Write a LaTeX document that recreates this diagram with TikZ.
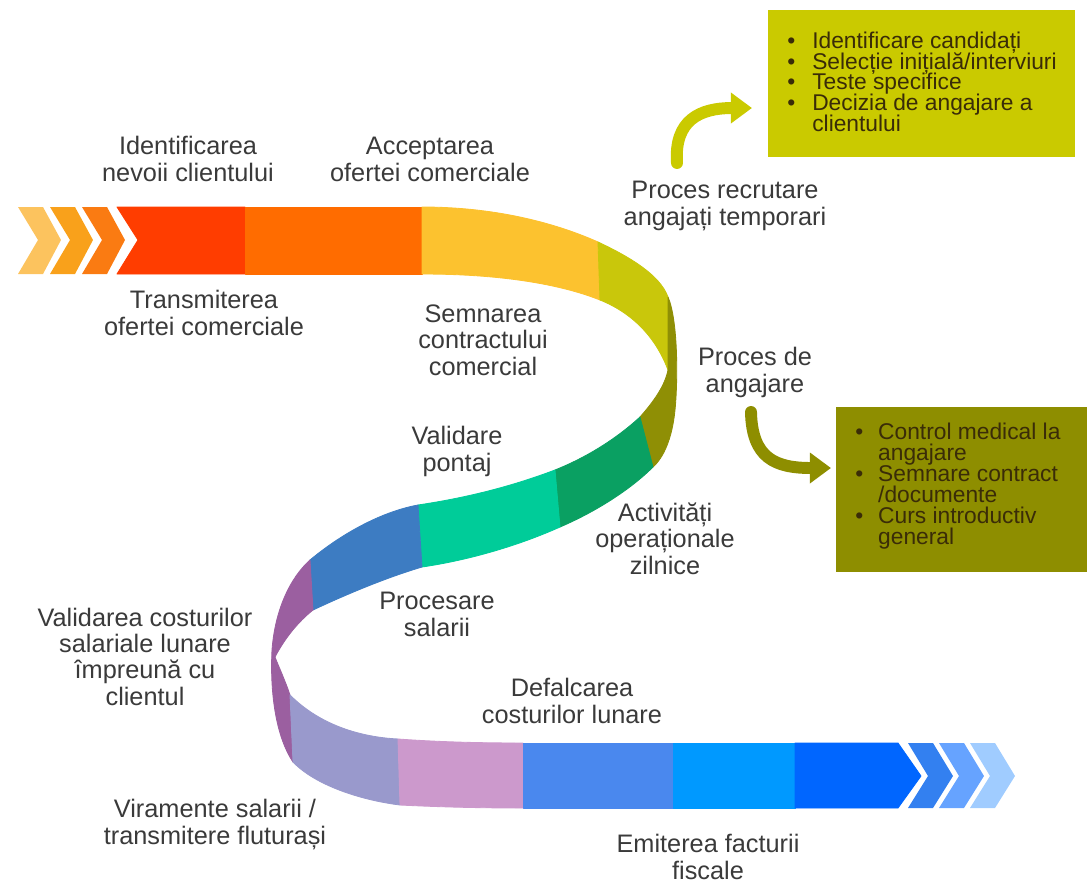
\documentclass[tikz,border=0pt]{standalone}
\usepackage{fontspec}
\setmainfont{Liberation Sans}
\usetikzlibrary{arrows.meta}
\definecolor{txtgray}{HTML}{3A3A3A}
\definecolor{boxtxt}{HTML}{3A2C08}
\definecolor{recbox}{HTML}{CACA00}
\definecolor{angbox}{HTML}{8E8E00}
\definecolor{chevA}{HTML}{FCC35E}
\definecolor{chevB}{HTML}{F9A11B}
\definecolor{chevC}{HTML}{FA7B12}
\definecolor{segRed}{HTML}{FF3D00}
\definecolor{segOrange}{HTML}{FF6C00}
\definecolor{segYellow}{HTML}{FCC22F}
\definecolor{segLime}{HTML}{C9C70B}
\definecolor{segOlive}{HTML}{8F8F05}
\definecolor{segGreen}{HTML}{0AA062}
\definecolor{segTeal}{HTML}{00CC99}
\definecolor{segBlue}{HTML}{3D7CC2}
\definecolor{segPurple}{HTML}{9B5FA0}
\definecolor{segLilac}{HTML}{9999CC}
\definecolor{segPink}{HTML}{CC99CC}
\definecolor{segSky}{HTML}{4A88EE}
\definecolor{segAzure}{HTML}{0099FF}
\definecolor{segDeep}{HTML}{0066FF}
\definecolor{chevD}{HTML}{3380F0}
\definecolor{chevE}{HTML}{66A3FF}
\definecolor{chevF}{HTML}{A0CCFF}
\newcommand{\boxfont}[1]{\fontsize{16.2}{#1}\selectfont\lineskiplimit=-20pt\relax}
\newcommand{\bul}[1]{\makebox[#1][l]{\textbullet}}
\begin{document}
\begin{tikzpicture}[x=0.025cm,y=-0.025cm,line join=round,line cap=round]
	\tikzset{lbl/.style={font=\fontsize{18}{18.5}\selectfont,text=txtgray,align=center,inner sep=0pt,anchor=base},
		bx/.style={text=boxtxt,align=left,inner sep=0pt,anchor=base west},
		seg/.style={line width=0.6pt},
		arr/.style={line width=8.5pt,-{Triangle[length=15pt,width=21pt]}}}
	\useasboundingbox (0,0) rectangle (1088,884);
	% ribbon, upper part
	\foreach \x/\c in {18/chevA,50/chevB,82/chevC}
	\fill[\c] (\x,207)--(\x+25,207)--(\x+43,240)--(\x+25,274)--(\x,274)--(\x+20,240)--cycle;
	\filldraw[seg,segRed] (117,207)--(245,207)--(245,274)--(117,274)--(138,240)--cycle;
	\filldraw[seg,segOrange] (245,207) rectangle (422,274);
	\filldraw[seg,segYellow] (422,207) .. controls (500,207) and (560,225) .. (598,242)
		-- (600,300) .. controls (560,284) and (500,274) .. (422,274) -- cycle;
	\filldraw[seg,segLime] (598,242) .. controls (630,257) and (660,275) .. (668,297)
		-- (668,370) .. controls (655,335) and (630,312) .. (600,300) -- cycle;
	\filldraw[seg,segOlive] (668,297) .. controls (678,320) and (678,380) .. (675,410)
		.. controls (672,440) and (663,458) .. (653,467) -- (640,417)
		.. controls (655,400) and (665,385) .. (668,370) -- cycle;
	% ribbon, middle part
	\filldraw[seg,segGreen] (640,417) .. controls (615,440) and (585,458) .. (555,470)
		-- (560,527) .. controls (595,512) and (630,490) .. (653,467) -- cycle;
	\filldraw[seg,segTeal] (555,470) .. controls (510,487) and (465,498) .. (418,505)
		-- (422,567) .. controls (470,560) and (520,545) .. (560,527) -- cycle;
	\filldraw[seg,segBlue] (418,505) .. controls (380,512) and (340,535) .. (310,560)
		-- (313,610) .. controls (345,595) and (385,578) .. (422,567) -- cycle;
	\filldraw[seg,segPurple] (310,560) .. controls (290,578) and (275,610) .. (272,650)
		.. controls (270,690) and (275,735) .. (293,762) -- (290,695)
		.. controls (285,680) and (278,665) .. (275,657)
		.. controls (285,638) and (298,622) .. (313,610) -- cycle;
	% ribbon, lower part
	\filldraw[seg,segLilac] (290,695) .. controls (320,725) and (360,737) .. (398,739)
		-- (400,805) .. controls (360,800) and (315,785) .. (293,762) -- cycle;
	\filldraw[seg,segPink] (398,739) .. controls (440,742) and (480,743) .. (523,743)
		-- (523,808) .. controls (480,808) and (440,807) .. (400,805) -- cycle;
	\filldraw[seg,segSky] (523,743) rectangle (673,808);
	\filldraw[seg,segAzure] (673,743) rectangle (795,808);
	\filldraw[seg,segDeep] (795,743)--(898,743)--(921,776)--(898,808)--(795,808)--cycle;
	\foreach \x/\c in {908/chevD,939/chevE,970/chevF}
	\fill[\c] (\x,743)--(\x+25,743)--(\x+45,776)--(\x+25,808)--(\x,808)--(\x+20,776)--cycle;
	% labels
	\node[lbl] (ident) at (188,181) {Identificarea\\nevoii clientului};
	\node[lbl] (accept) at (430,181) {Acceptarea\\ofertei comerciale};
	\node[lbl] (transm) at (204,335) {Transmiterea\\ofertei comerciale};
	\node[lbl] (recrut) at (725,225) {Proces recrutare\\angajați temporari};
	\node[lbl] (semn) at (483,375) {Semnarea\\contractului\\comercial};
	\node[lbl] (angaj) at (755,392) {Proces de\\angajare};
	\node[lbl] (pontaj) at (457,471) {Validare\\pontaj};
	\node[lbl] (activ) at (665,574) {Activități\\operaționale\\zilnice};
	\node[lbl] (validc) at (145,705) {Validarea costurilor\\salariale lunare\\împreună cu\\clientul};
	\node[lbl] (procs) at (437,636) {Procesare\\salarii};
	\node[lbl] (defalc) at (572,723) {Defalcarea\\costurilor lunare};
	\node[lbl] (viram) at (215,844) {Viramente salarii /\\transmitere fluturași};
	\node[lbl] (emit) at (708,879) {Emiterea facturii\\fiscale};
	% boxes
	\fill[recbox] (768,10) rectangle (1075,157);
	\node[bx,font=\boxfont{14.6}] (recitems) at (787,131) {\bul{17.8pt}Identificare candidați\\
		\bul{17.8pt}Selecție inițială/interviuri\\
		\bul{17.8pt}Teste specifice\\
		\bul{17.8pt}Decizia de angajare a\\
		\hspace*{17.8pt}clientului};
	\fill[angbox] (836,407) rectangle (1087,572);
	\node[bx,font=\boxfont{14.9}] (angitems) at (855,544) {\bul{16.3pt}Control medical la\\
		\hspace*{16.3pt}angajare\\
		\bul{16.3pt}Semnare contract\\
		\hspace*{16.3pt}/documente\\
		\bul{16.3pt}Curs introductiv\\
		\hspace*{16.3pt}general};
	% arrows
	\coordinate (recS) at (677,163);
	\coordinate (recE) at (752,108);
	\coordinate (angS) at (751,412);
	\coordinate (angE) at (831,468);
	\draw[arr,recbox] (recS) .. controls (674,120) and (700,108) .. (recE);
	\draw[arr,angbox] (angS) .. controls (752,458) and (775,468) .. (angE);
\end{tikzpicture}
\end{document}
